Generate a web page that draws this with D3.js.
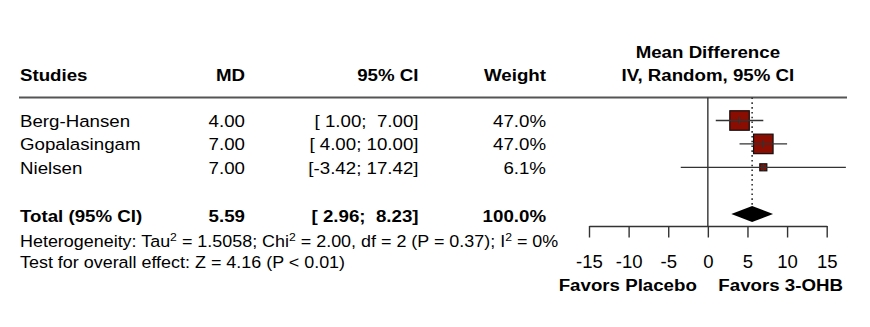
<!DOCTYPE html>
<html>
<head>
<meta charset="utf-8">
<script src="https://cdn.jsdelivr.net/npm/d3@7"></script>
<style>
  html, body { margin: 0; padding: 0; background: #fff; }
  svg text { font-family: "Liberation Sans", Arial, Helvetica, sans-serif; fill: #000; white-space: pre; }
</style>
</head>
<body>
<svg id="chart" width="870" height="327"></svg>
<script>
// Study-level results (mean difference with 95% CI, random-effects weight)
const studies = ["Berg-Hansen", "Gopalasingam", "Nielsen"];
const md      = [4.00, 7.00, 7.00];
const lower   = [1.00, 4.00, -3.42];
const upper   = [7.00, 10.00, 17.42];
const weight  = [47.0, 47.0, 6.1];

// Pooled estimate
const totalMD = 5.59;
const totalLower = 2.96;
const totalUpper = 8.23;
const totalWeight = 100.0;

const axisTicks = [-15, -10, -5, 0, 5, 10, 15];
const heterogeneity = ["Heterogeneity: Tau", "2", " = 1.5058; Chi", "2", " = 2.00, df = 2 (P = 0.37); I", "2", " = 0%"];
const overallTest = "Test for overall effect: Z = 4.16 (P < 0.01)";

const svg = d3.select("#chart");
const SX = 1.1;           // horizontal stretch of the typeset text
const FS = 17;            // main font size
const FS_SMALL = 16.3;    // footnote font size

const x = d3.scaleLinear().domain([-15, 15]).range([589, 826.7]);
const y = d3.scalePoint().domain(studies).range([120.5, 167.3]);
const totalY = 214;
const headerLineY = 97.5;
const axisY = 226;

function label(g, txt, px, py, anchor, opts = {}) {
  return g.append("text")
    .attr("transform", `translate(${px},${py}) scale(${opts.sx || SX},1)`)
    .attr("text-anchor", anchor)
    .attr("font-size", opts.size || FS)
    .attr("font-weight", opts.bold ? "bold" : "normal")
    .text(txt);
}

const colStudy = 20, colMD = 245, colCI = 418.5, colW = 546;
const fmt2 = v => v.toFixed(2);
const pad5 = v => { const s = fmt2(v); return " ".repeat(Math.max(0, 5 - s.length)) + s; };
const ciText = (l, u) => `[${pad5(l)}; ${pad5(u)}]`;

// Column headers
const head = svg.append("g");
label(head, "Studies", colStudy, 80.5, "start", {bold: true});
label(head, "MD", colMD, 80.5, "end", {bold: true});
label(head, "95% CI", colCI, 80.5, "end", {bold: true});
label(head, "Weight", colW, 80.5, "end", {bold: true});
label(head, "Mean Difference", x(0), 57.5, "middle", {bold: true});
label(head, "IV, Random, 95% CI", x(0), 80.5, "middle", {bold: true});

svg.append("line")
  .attr("x1", 19).attr("x2", 847)
  .attr("y1", headerLineY).attr("y2", headerLineY)
  .attr("stroke", "#555").attr("stroke-width", 2);

// Study rows
const rows = svg.append("g");
studies.forEach((s, i) => {
  const by = y(s) + 6.2;
  label(rows, s, colStudy, by, "start");
  label(rows, fmt2(md[i]), colMD, by, "end");
  label(rows, ciText(lower[i], upper[i]), colCI, by, "end");
  label(rows, weight[i].toFixed(1) + "%", colW, by, "end");
});

// Pooled row
const tb = totalY + 7.5;
label(rows, "Total (95% CI)", colStudy, tb, "start", {bold: true});
label(rows, fmt2(totalMD), colMD, tb, "end", {bold: true});
label(rows, ciText(totalLower, totalUpper), colCI, tb, "end", {bold: true});
label(rows, totalWeight.toFixed(1) + "%", colW, tb, "end", {bold: true});

// Footnotes
const het = svg.append("text")
  .attr("transform", `translate(${colStudy},247) scale(${SX},1)`)
  .attr("font-size", FS_SMALL);
heterogeneity.forEach((t, i) => {
  const sup = i % 2 === 1;
  het.append("tspan")
    .attr("font-size", sup ? FS_SMALL * 0.68 : FS_SMALL)
    .attr("dy", sup ? -6.5 : (i > 0 ? 6.5 : 0))
    .text(t);
});
label(svg, overallTest, colStudy, 267.5, "start", {size: FS_SMALL});

// Forest plot
const plot = svg.append("g");

// line of no effect
plot.append("line")
  .attr("x1", x(0)).attr("x2", x(0))
  .attr("y1", headerLineY).attr("y2", axisY)
  .attr("stroke", "#333").attr("stroke-width", 1.4);

// pooled estimate reference line
plot.append("line")
  .attr("x1", x(totalMD)).attr("x2", x(totalMD))
  .attr("y1", headerLineY).attr("y2", totalY - 8)
  .attr("stroke", "#333").attr("stroke-width", 1.6)
  .attr("stroke-dasharray", "1.6,3.2");

const maxW = d3.max(weight);
const boxSize = w => 19.5 * Math.sqrt(w / maxW);

studies.forEach((s, i) => {
  const cy = y(s);
  const sz = boxSize(weight[i]);
  plot.append("rect")
    .attr("x", x(md[i]) - sz / 2).attr("y", cy - sz / 2)
    .attr("width", sz).attr("height", sz)
    .attr("fill", "#8b0c00").attr("stroke", "#111").attr("stroke-width", 1.2);
  plot.append("line")
    .attr("x1", x(lower[i])).attr("x2", x(upper[i]))
    .attr("y1", cy).attr("y2", cy)
    .attr("stroke", "#333").attr("stroke-width", 1.3);
  const tk = Math.min(8, sz);
  plot.append("line")
    .attr("x1", x(md[i])).attr("x2", x(md[i]))
    .attr("y1", cy - tk / 2).attr("y2", cy + tk / 2)
    .attr("stroke", "#333").attr("stroke-width", 1.2);
});

// pooled diamond
const dh = 8;
plot.append("path")
  .attr("d", `M${x(totalLower)},${totalY} L${x(totalMD)},${totalY - dh} L${x(totalUpper)},${totalY} L${x(totalMD)},${totalY + dh} Z`)
  .attr("fill", "#000");

// x axis
const axis = svg.append("g")
  .attr("transform", `translate(0,${axisY})`)
  .call(d3.axisBottom(x).tickValues(axisTicks).tickSize(11.5).tickSizeOuter(0).tickFormat(d => String(d)));
axis.select(".domain").attr("stroke", "#333").attr("stroke-width", 1.4);
axis.selectAll(".tick line").attr("stroke", "#333").attr("stroke-width", 1.4);
axis.selectAll(".tick text")
  .attr("font-size", 17.5)
  .attr("font-family", null)
  .attr("fill", "#000")
  .attr("dy", null)
  .attr("y", 0)
  .attr("transform", `translate(0,42.3) scale(1.06,1)`);

label(svg, "Favors Placebo", x(0) - 11, 290.7, "end", {bold: true});
label(svg, "Favors 3-OHB", x(0) + 10.5, 290.7, "start", {bold: true});
</script>
</body>
</html>
